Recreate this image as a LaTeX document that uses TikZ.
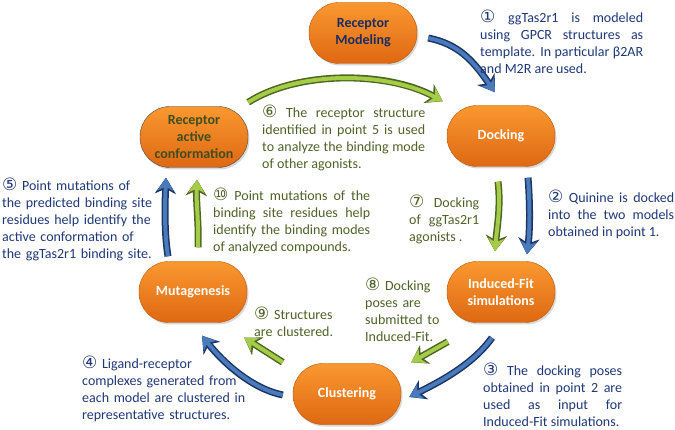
\documentclass[tikz,border=0pt]{standalone}
\usepackage{fontspec}
\setmainfont{Carlito}
\newfontfamily\circfont{DejaVu Sans}
\usepackage{tikz}
\usetikzlibrary{positioning}
\usetikzlibrary{shadows,arrows.meta}

\definecolor{textblue}{RGB}{31,56,120}
\definecolor{textgreen}{RGB}{79,98,40}
\definecolor{boxtop}{RGB}{250,152,48}
\definecolor{boxbottom}{RGB}{222,104,18}
\definecolor{arrowblue}{RGB}{72,122,188}
\definecolor{arrowblueedge}{RGB}{28,52,100}
\definecolor{arrowgreen}{RGB}{165,204,72}
\definecolor{arrowgreenedge}{RGB}{78,102,32}

\newcommand{\cnum}[1]{{\circfont\fontsize{17}{17}\selectfont #1}}

\begin{document}
\begin{tikzpicture}[x=1pt, y=-1pt, font=\fontsize{14}{17}\selectfont,
  stage/.style={rounded corners=30pt, minimum width=108pt, minimum height=61pt,
    top color=boxtop, bottom color=boxbottom, draw=boxbottom!85!black, thin,
    align=center, font=\fontsize{14}{17}\selectfont\bfseries, text=white,
    drop shadow={shadow xshift=1.5pt, shadow yshift=-2pt, opacity=0.3}},
  note/.style={anchor=north west, inner sep=0pt},
  bluenote/.style={note, text=textblue},
  greennote/.style={note, text=textgreen},
  bluearrow/.style={draw=arrowblue, line width=4pt,
    -{Stealth[length=13pt, width=16pt, inset=4pt]},
    preaction={draw=arrowblueedge, line width=7pt,
      -{Stealth[length=16pt, width=21pt, inset=5pt]}}},
  greenarrow/.style={draw=arrowgreen, line width=4pt,
    -{Stealth[length=13pt, width=16pt, inset=4pt]},
    preaction={draw=arrowgreenedge, line width=7pt,
      -{Stealth[length=16pt, width=21pt, inset=5pt]}}}]
  \useasboundingbox[fill=white] (0,0) rectangle (675,430);

  % stages of the cycle
  \node[stage, text=textblue!80!black] (model) at (363,33) {Receptor\\Modeling};
  \node[stage] (dock) at (501,136) {Docking};
  \node[stage] (fit) at (501,292) {Induced-Fit\\simulations};
  \node[stage] (clus) at (347,394) {Clustering};
  \node[stage] (mut) at (193,292) {Mutagenesis};
  \node[stage, text=textgreen!80!black, draw=black!70] (act) at (194,137) {Receptor\\active\\conformation};

  % arrows
  \draw[bluearrow] ([shift={(11,5)}]model.east) .. controls +(30,6) and +(-22,-32) .. ([shift={(-6,-13)}]dock.north);
  \draw[greenarrow] ([shift={(0,-4)}]act.north east) .. controls +(50,-32) and +(-55,-30) .. ([shift={(-4,-4)}]dock.north west);
  \draw[greenarrow] ([shift={(-3,15)}]dock.south) .. controls +(3,25) and +(2,-25) .. ([shift={(-6,-10)}]fit.north);
  \draw[bluearrow] ([shift={(27,11)}]dock.south) .. controls +(2,25) and +(3,-25) .. ([shift={(26,-7)}]fit.north);
  \draw[bluearrow] ([shift={(-9,15)}]fit.south) .. controls +(-20,28) and +(28,-14) .. ([shift={(8,3)}]clus.east);
  \draw[greenarrow] ([shift={(1,19)}]fit.south west) -- ([shift={(10,-1)}]clus.north east);
  \draw[greenarrow] ([shift={(-10,-1)}]clus.north west) -- ([shift={(-3,15)}]mut.south east);
  \draw[bluearrow] ([shift={(-10,1)}]clus.west) .. controls +(-30,-6) and +(22,28) .. ([shift={(9,13)}]mut.south);
  \draw[bluearrow] ([shift={(-25,-5)}]mut.north) .. controls +(-4,-25) and +(-1,25) .. ([shift={(-28,10)}]act.south);
  \draw[greenarrow] ([shift={(5,-14)}]mut.north) .. controls +(1,-22) and +(-1,22) .. ([shift={(3,12)}]act.south);

  % notes
  \node[bluenote, text width=163pt, align=justify] (note1) at (480,10)
    {\cnum{①} ggTas2r1 is modeled\linebreak using GPCR structures as\linebreak template. In particular β2AR\linebreak and M2R are used.};
  \node[bluenote, text width=126pt, align=justify] (note2) at (548,190)
    {\cnum{②} Quinine is docked\linebreak into the two models\linebreak obtained in point 1.};
  \node[bluenote, text width=139pt, align=justify] (note3) at (483,363)
    {\cnum{③} The docking poses\linebreak obtained in point 2 are\linebreak used as input for\linebreak Induced-Fit simulations.};
  \node[bluenote, text width=170pt, align=left] (note4) at (82,356)
    {\cnum{④} Ligand-receptor\\complexes generated from\\each model are clustered in\\representative structures.};
  \node[bluenote, text width=160pt, align=left] (note5) at (2,178)
    {\cnum{⑤} Point mutations of\\the predicted binding site\\residues help identify the\\active conformation of\\the ggTas2r1 binding site.};
  \node[greennote, text width=163pt, align=justify] (note6) at (262,105)
    {\cnum{⑥} The receptor structure\linebreak identified in point 5 is used\linebreak to analyze the binding mode\linebreak of other agonists.};
  \node[greennote, text width=70pt, align=justify] (note7) at (409,195)
    {\cnum{⑦} Docking\linebreak of ggTas2r1\linebreak agonists .};
  \node[greennote, text width=85pt, align=left] (note8) at (365,278)
    {\cnum{⑧} Docking\\poses are\\submitted to\\Induced-Fit.};
  \node[greennote, text width=85pt, align=left] (note9) at (254,307)
    {\cnum{⑨} Structures\\are clustered.};
  \node[greennote, text width=157pt, align=justify] (note10) at (213,188)
    {\cnum{⑩} Point mutations of the\linebreak binding site residues help\linebreak identify the binding modes\linebreak of analyzed compounds.};
\end{tikzpicture}
\end{document}
